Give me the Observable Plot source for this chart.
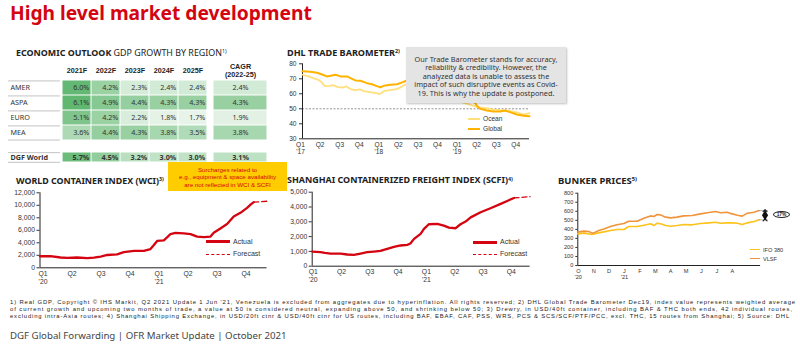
<!DOCTYPE html>
<html><head><meta charset="utf-8">
<script src="https://cdn.jsdelivr.net/npm/d3@7"></script>
<script src="https://cdn.jsdelivr.net/npm/@observablehq/plot@0.6"></script>
<style>
body{margin:0;background:#fff;}
#root{position:relative;width:800px;height:353px;overflow:hidden;font-family:"Noto Sans",sans-serif;color:#222;background:#fff;}
.sup{font-size:0.6em;position:relative;top:-0.45em;}
</style></head><body><div id="root"></div>
<script>
// ---------- DATA ----------
const pageTitle = "High level market development";
const tableTitleBold = "ECONOMIC OUTLOOK";
const tableTitleRest = " GDP GROWTH BY REGION";
const regions = ["AMER","ASPA","EURO","MEA"];
const years = ["2021F","2022F","2023F","2024F","2025F"];
const gdpAMER = [6.0,4.2,2.3,2.4,2.4];
const gdpASPA = [6.1,4.9,4.4,4.3,4.3];
const gdpEURO = [5.1,4.2,2.2,1.8,1.7];
const gdpMEA  = [3.6,4.4,4.3,3.8,3.5];
const cagrHeader = "CAGR\n(2022-25)";
const cagrRegions = [2.4,4.3,1.9,3.8];
const worldName = "DGF World";
const gdpWorld = [5.7,4.5,3.2,3.0,3.0];
const cagrWorld = [3.1];
const gdpColorDomain = [1.5,6.2];
const gdpColorRange = ["#eef7ef","#5db66d"];

const dhlTitle = "DHL TRADE BAROMETER";
const dhlQuarterLabels = ["Q1\n'17","Q2","Q3","Q4","Q1\n'18","Q2","Q3","Q4","Q1\n'19","Q2","Q3","Q4"];
const dhlYTicks = [30,40,50,60,70,80];
const dhlNeutral = 50;
const dhlGlobalQ = [0,0.4,0.75,1.0,1.25,1.5,1.68,1.95,2.28,2.53,2.7,2.96,3.3,3.55,3.8,3.98,4.15,4.5,4.83,5.1,5.3,5.6,6.0,6.5,7.0,7.5,8.0,8.4,8.74,8.9,9.08,9.42,9.76,10.1,10.35,10.6,10.95,11.3,11.6];
const dhlGlobalV = [75,74.7,74,72.9,71.6,72.2,72.7,71.6,71.6,70,68.9,68.7,67.1,66.4,65.1,64.4,65.3,66,66.4,67.6,68.7,68,66,63,61,59,58,57,55.5,52.2,50,48.9,48.2,48.2,48.9,47.8,46.2,45.3,45.1];
const dhlOceanQ = [0,0.3,0.55,0.8,0.97,1.14,1.4,1.56,1.82,2.07,2.24,2.5,2.67,2.93,3.18,3.44,3.78,3.95,4.2,4.46,4.8,4.97,5.22,5.6,6.0,6.5,7.0,7.5,8.0,8.5,9.0,9.4,9.76,10.2,10.6,10.95,11.3,11.6];
const dhlOceanV = [72.7,71.6,70.4,69.3,67.8,65.1,65.3,65.8,64.4,64.2,64.9,62.9,62.4,62.9,61.6,61.1,60.4,59.8,62,62.4,63.1,64,66,66.5,65,62,60,57,55,53,51,50.5,49.5,49,48.4,47.6,46.2,47.1];
const dhlSeries = ["Ocean","Global"];
const dhlNote = ["Our Trade Barometer stands for accuracy,","reliability & credibility. However, the","analyzed data is unable to assess the","impact of such disruptive events as Covid-","19. This is why the update is postponed."];

const quarterLabels = ["Q1\n'20","Q2","Q3","Q4","Q1\n'21","Q2","Q3","Q4"];
const wciTitle = "WORLD CONTAINER INDEX (WCI)";
const wciYTicks = [0,2000,4000,6000,8000,10000,12000];
const wciActualT = [0,0.36,0.71,0.94,1.28,1.63,1.86,2.09,2.32,2.66,2.89,3.24,3.58,3.81,3.92,4.04,4.27,4.39,4.5,4.67,4.96,5.19,5.42,5.65,5.88,5.99,6.22,6.45,6.68,6.91,7.14,7.26,7.37];
const wciActualV = [1850,1870,1650,1600,1650,1550,1620,1800,2050,2150,2500,2700,2700,3000,3600,4300,4400,4900,5400,5600,5500,5400,5000,4900,5000,5600,6300,7000,8200,8800,9600,10100,10500];
const wciForecastT = [7.37,7.83];
const wciForecastV = [10500,10650];
const seriesNames = ["Actual","Forecast"];

const scfiTitle = "SHANGHAI CONTAINERIZED FREIGHT INDEX (SCFI)";
const scfiYTicks = [0,1000,2000,3000,4000,5000];
const scfiActualT = [0,0.29,0.45,0.65,1.0,1.24,1.47,1.71,1.94,2.18,2.41,2.65,2.89,3.12,3.36,3.47,3.6,3.83,3.95,4.12,4.42,4.65,4.83,5.07,5.24,5.42,5.6,5.95,6.3,6.66,6.89,7.13];
const scfiActualV = [990,945,900,855,855,790,765,855,945,990,1035,1170,1300,1400,1440,1530,1845,2180,2520,2835,2860,2745,2610,2565,2835,3015,3300,3645,3915,4210,4410,4610];
const scfiForecastT = [7.13,7.7];
const scfiForecastV = [4610,4700];

const surchargeNote = ["Surcharges related to","e.g., equipment & space availability","are not reflected in WCI & SCFI"];

const bunkerTitle = "BUNKER PRICES";
const monthLabels = ["O\n'20","N","D","J\n'21","F","M","A","M","J","J","A"];
const bunkerYTicks = [0,100,200,300,400,500,600,700,800];
const vlsfM = [0,0.39,0.71,0.93,1.0,1.36,1.69,2.12,2.55,2.99,3.31,3.85,4.29,4.72,4.94,5.15,5.37,5.7,6.02,6.45,6.88,7.43,7.97,8.51,8.95,9.27,9.7,10.03,10.36,10.68,11.01,11.45,11.77];
const vlsfV = [369,380,376,358,358,387,405,431,450,465,490,490,523,549,542,564,560,535,527,535,549,553,571,586,597,583,590,571,557,546,579,590,608];
const ifoM = [0,0.39,0.93,1.25,1.69,2.12,2.55,2.99,3.31,3.85,4.29,4.72,4.94,5.15,5.37,5.7,6.02,6.45,6.88,7.43,7.97,8.51,8.95,9.27,9.7,10.03,10.36,10.68,11.01,11.45,11.77];
const ifoV = [350,358,343,358,372,387,398,398,431,431,446,461,442,468,461,442,435,442,453,450,465,472,479,468,472,472,468,453,472,487,505];
const bunkerSeries = ["IFO 380","VLSF"];
const spreadLabel = "17%";

const footnotes = [
 "1) Real GDP, Copyright © IHS Markit, Q2 2021 Update 1 Jun '21, Venezuela is excluded from aggregates due to hyperinflation. All rights reserved; 2) DHL Global Trade Barometer Dec19, index value represents weighted average",
 "of current growth and upcoming two months of trade, a value at 50 is considered neutral, expanding above 50, and shrinking below 50; 3) Drewry, in USD/40ft container, including BAF & THC both ends, 42 individual routes,",
 "excluding intra-Asia routes; 4) Shanghai Shipping Exchange, in USD/20ft ctnr & USD/40ft ctnr for US routes, including BAF, EBAF, CAF, PSS, WRS, PCS & SCS/SCF/PTF/PCC, excl. THC, 15 routes from Shanghai; 5) Source: DHL"
];
const footer = "DGF Global Forwarding | OFR Market Update | October 2021";

// ---------- HELPERS ----------
const RED = "#d40511";
const SMALL = '"Liberation Sans", Arial, sans-serif';
const root = document.getElementById("root");
const S = (fs, fam) => ({fontFamily: fam || '"Noto Sans", sans-serif', fontSize: fs+"px", color:"#333", background:"transparent", overflow:"visible"});
function put(node, left, top){ const d=document.createElement("div"); d.style.cssText=`position:absolute;left:${left}px;top:${top}px;line-height:0;`; d.appendChild(node); root.appendChild(d); return d; }
function label(html, left, cy, css){ const d=document.createElement("div"); d.innerHTML=html; d.style.cssText=`position:absolute;left:${left}px;top:${cy}px;transform:translateY(-50%);white-space:nowrap;line-height:1.15;${css||""}`; root.appendChild(d); return d; }
function fit(el, target){ const w=el.getBoundingClientRect().width; const fs=parseFloat(getComputedStyle(el).fontSize); el.style.fontSize=(fs*target/w)+"px"; }
function spread(el, target){ const w=el.getBoundingClientRect().width; const n=el.textContent.length; el.style.letterSpacing=((target-w)/n)+"px"; }
function legendLine(left, cy, color, width, dashed, text, fs, len=24){
  const l=document.createElement("div");
  l.style.cssText=`position:absolute;left:${left}px;top:${cy-width/2}px;width:${len}px;height:0;border-top:${width}px ${dashed?"dashed":"solid"} ${color};`;
  root.appendChild(l);
  return label(text, left+len+3, cy, `font-size:${fs}px;color:#333;font-family:${SMALL};`);
}
const pts = (T,V) => T.map((t,i)=>({t, v:V[i]}));

// ---------- TITLE ----------
const t0 = label(pageTitle, 10, 13, `font-size:19px;font-weight:700;color:${RED};`);
fit(t0, 302);

// ---------- TABLE ----------
const tt = label(`<b>${tableTitleBold}</b>${tableTitleRest}<span class="sup">1)</span>`, 16, 52.5, "font-size:7.8px;color:#222;");
fit(tt, 211);

function gridPlot({rows, cols, vals, width, height, marginTop=0, header=null, align="end", bold=false}){
  const data = rows.flatMap((r,i)=>cols.map((c,j)=>({r, c, v: vals[i][j]})));
  const bw = width/cols.length;
  return Plot.plot({
    width, height, marginTop, marginLeft:0, marginRight:0, marginBottom:0,
    style: S(7.2),
    x:{type:"band", domain:cols, padding:0, axis:null},
    y:{type:"band", domain:rows, padding:0, axis:null},
    color:{type:"linear", domain:gdpColorDomain, range:gdpColorRange, interpolate:"rgb"},
    marks:[
      Plot.cell(data, {x:"c", y:"r", fill:"v", inset:0.5}),
      Plot.text(data, {x:"c", y:"r", text:d=>d.v.toFixed(1)+"%", textAnchor: align==="end"?"end":"middle", dx: align==="end"? bw/2-2.5 : 0, fill:"#333", fontWeight: bold?700:400}),
      header ? Plot.text(cols, {x:d=>d, text:(d,i)=>header[i], frameAnchor:"top", lineAnchor:"middle", dy:-10, fontWeight:700, lineHeight:1.1, fill:"#222", fontFamily:SMALL}) : null
    ]
  });
}
function labelPlot(rows, height, bold){
  const bh = height/rows.length;
  return Plot.plot({
    width:52, height, margin:0, style:S(7.2),
    y:{type:"band", domain:rows, padding:0, axis:null},
    marks:[
      Plot.ruleY(rows, {y:d=>d, dy:-bh/2+0.5, stroke:"#c4c4c4"}),
      Plot.ruleY([rows[rows.length-1]], {y:d=>d, dy:bh/2-0.5, stroke:"#c4c4c4"}),
      Plot.text(rows, {y:d=>d, frameAnchor:"left", textAnchor:"start", dx:2, fill:"#333", fontWeight: bold?700:400})
    ]
  });
}
const regionVals = [gdpAMER, gdpASPA, gdpEURO, gdpMEA];
put(labelPlot(regions, 60.7, false), 8, 80);
put(gridPlot({rows:regions, cols:years, vals:regionVals, width:148, height:80.7, marginTop:20, header:years}), 60, 60);
put(gridPlot({rows:regions, cols:[cagrHeader], vals:cagrRegions.map(v=>[v]), width:54, height:80.7, marginTop:20, header:[cagrHeader], align:"middle"}), 212.7, 60);
put(labelPlot([worldName], 10.7, true), 8, 151.7);
put(gridPlot({rows:[worldName], cols:years, vals:[gdpWorld], width:148, height:10.7, bold:true}), 60, 151.7);
put(gridPlot({rows:[worldName], cols:[cagrHeader], vals:[cagrWorld], width:54, height:10.7, align:"middle", bold:true}), 212.7, 151.7);

// ---------- DHL TRADE BAROMETER ----------
fit(label(`${dhlTitle}<span class="sup">2)</span>`, 287, 52.7, "font-size:8px;font-weight:700;color:#222;"), 113);
const dhlPlot = Plot.plot({
  width:264, height:100, marginLeft:32, marginRight:264-(529-270), marginTop:8.3, marginBottom:16.7,
  style:S(6.6, SMALL),
  x:{domain:[0, d3.max(dhlGlobalQ)], axis:null},
  y:{domain:[30,80]},
  marks:[
    Plot.axisY({ticks:dhlYTicks, tickSize:3, tickPadding:3, label:null}),
    Plot.ruleY([dhlNeutral], {stroke:"#777", strokeDasharray:"2,1.5", strokeWidth:0.8}),
    Plot.ruleY([30], {stroke:"#222"}),
    Plot.ruleX([0], {stroke:"#222"}),
    Plot.text(dhlQuarterLabels, {x:(d,i)=>i, text:d=>d, frameAnchor:"bottom", lineAnchor:"top", dy:2.5, dx:-2, lineHeight:1.15, fill:"#333"}),
    Plot.line(pts(dhlOceanQ, dhlOceanV), {x:"t", y:"v", stroke:"#ffe07d", strokeWidth:1.8}),
    Plot.line(pts(dhlGlobalQ, dhlGlobalV), {x:"t", y:"v", stroke:"#ffb300", strokeWidth:2})
  ]
});
put(dhlPlot, 270, 55);
legendLine(468, 119, "#ffe07d", 2, false, dhlSeries[0], 6.6, 12);
legendLine(468, 129.3, "#ffb300", 2.2, false, dhlSeries[1], 6.6, 12);
const note = document.createElement("div");
note.innerHTML = dhlNote.join("<br>");
note.style.cssText = "position:absolute;left:406px;top:47px;width:160px;height:56px;background:#e4e4e4;box-shadow:1px 1px 2px rgba(0,0,0,.25);text-align:center;font-size:7.3px;line-height:8.6px;padding-top:7.5px;box-sizing:border-box;color:#333;white-space:nowrap;";
root.appendChild(note);

// ---------- WCI ----------
fit(label(`${wciTitle}<span class="sup">3)</span>`, 16, 180.7, "font-size:8px;font-weight:700;color:#222;"), 148);
const wciPlot = Plot.plot({
  width:275, height:100, marginLeft:39.5, marginRight:275-(39.5+29*wciForecastT[1]), marginTop:7.3, marginBottom:17.7,
  style:S(6.8, SMALL),
  x:{domain:[0, wciForecastT[1]], axis:null},
  y:{domain:[0,12000]},
  marks:[
    Plot.axisY({ticks:wciYTicks, tickFormat:d3.format(","), tickSize:3, tickPadding:2, label:null}),
    Plot.ruleY([0], {stroke:"#222"}),
    Plot.ruleX([0], {stroke:"#222"}),
    Plot.text(quarterLabels, {x:(d,i)=>i, text:d=>d, frameAnchor:"bottom", lineAnchor:"top", dy:2.5, dx:3, lineHeight:1.15, fill:"#333"}),
    Plot.line(pts(wciForecastT, wciForecastV), {x:"t", y:"v", stroke:RED, strokeWidth:1.3, strokeDasharray:"5,3"}),
    Plot.line(pts(wciActualT, wciActualV), {x:"t", y:"v", stroke:RED, strokeWidth:2.3})
  ]
});
put(wciPlot, 0, 185);
legendLine(206, 241.7, RED, 3, false, seriesNames[0], 7);
legendLine(206, 254.3, RED, 1.3, true, seriesNames[1], 7);

// ---------- SCFI ----------
fit(label(`${scfiTitle}<span class="sup">4)</span>`, 287, 180, "font-size:8px;font-weight:700;color:#222;"), 226);
const scfiPlot = Plot.plot({
  width:260, height:100, marginLeft:36.7, marginRight:260-(36.7+28.3*scfiForecastT[1]), marginTop:6.7, marginBottom:19.3,
  style:S(6.8, SMALL),
  x:{domain:[0, scfiForecastT[1]], axis:null},
  y:{domain:[0,5000]},
  marks:[
    Plot.axisY({ticks:scfiYTicks, tickFormat:d3.format(","), tickSize:3, tickPadding:2, label:null}),
    Plot.ruleY([0], {stroke:"#222"}),
    Plot.ruleX([0], {stroke:"#222"}),
    Plot.text(quarterLabels, {x:(d,i)=>i, text:d=>d, frameAnchor:"bottom", lineAnchor:"top", dy:2.5, dx:1, lineHeight:1.15, fill:"#333"}),
    Plot.line(pts(scfiForecastT, scfiForecastV), {x:"t", y:"v", stroke:RED, strokeWidth:1.3, strokeDasharray:"5,3"}),
    Plot.line(pts(scfiActualT, scfiActualV), {x:"t", y:"v", stroke:RED, strokeWidth:2.3})
  ]
});
put(scfiPlot, 275, 185);
legendLine(473, 242.3, RED, 3, false, seriesNames[0], 7);
legendLine(473, 254.3, RED, 1.3, true, seriesNames[1], 7);

// ---------- SURCHARGE NOTE ----------
const sn = document.createElement("div");
sn.innerHTML = surchargeNote.join("<br>");
sn.style.cssText = `position:absolute;left:168px;top:162px;width:119px;height:29px;background:#ffcc00;text-align:center;font-size:6.2px;line-height:7.1px;padding-top:4.4px;box-sizing:border-box;color:${RED};white-space:nowrap;font-family:${SMALL};`;
root.appendChild(sn);

// ---------- BUNKER ----------
fit(label(`${bunkerTitle}<span class="sup">5)</span>`, 558, 180.7, "font-size:8px;font-weight:700;color:#222;"), 79);
const lastM = vlsfM[vlsfM.length-1];
const lastV = vlsfV[vlsfV.length-1], lastI = ifoV[ifoV.length-1];
const bunkerPlot = Plot.plot({
  width:255, height:95, marginLeft:37.3, marginRight:255-(37.3+15.4*12.5), marginTop:7.7, marginBottom:15,
  style:S(5.6, SMALL),
  x:{domain:[0,12.5], axis:null},
  y:{domain:[0,800]},
  marks:[
    Plot.axisY({ticks:bunkerYTicks, tickSize:2, tickPadding:2.5, label:null}),
    Plot.ruleY([0], {x1:0, x2:lastM+0.1, stroke:"#222"}),
    Plot.ruleX([0], {stroke:"#222"}),
    Plot.text(monthLabels, {x:(d,i)=>i, text:d=>d, frameAnchor:"bottom", lineAnchor:"top", dy:2.5, dx:0.5, lineHeight:1.15, fill:"#333"}),
    Plot.line(pts(ifoM, ifoV), {x:"t", y:"v", stroke:"#fdc31b", strokeWidth:1.6}),
    Plot.line(pts(vlsfM, vlsfV), {x:"t", y:"v", stroke:"#f0943a", strokeWidth:1.6}),
    Plot.ruleY([lastI, lastV], {x1:lastM, x2:lastM+0.6, stroke:"#999", strokeWidth:0.7}),
    Plot.link([{}], {x1:lastM, x2:lastM, y1:lastI, y2:lastV, dx:6, stroke:"#111", strokeWidth:1, markerStart:"arrow", markerEnd:"arrow"}),
    Plot.dot([{}], {x:lastM, y:(lastI+lastV)/2, dx:6, symbol:"diamond", r:3.2, fill:"#111"})
  ]
});
put(bunkerPlot, 540, 185);
const ell = document.createElement("div");
ell.textContent = spreadLabel;
ell.style.cssText = `position:absolute;left:773px;top:210.5px;width:17px;height:7px;border:1px solid #222;border-radius:50%;box-sizing:border-box;font-size:4.8px;font-weight:700;line-height:5px;text-align:center;color:#222;font-family:${SMALL};`;
root.appendChild(ell);
legendLine(750, 250, "#fdc31b", 1.8, false, bunkerSeries[0], 5.6, 10);
legendLine(750, 259.3, "#f0943a", 1.8, false, bunkerSeries[1], 5.6, 10);

// ---------- FOOTNOTES ----------
const fnTargets = [786, 783, 780];
footnotes.forEach((f,i)=>{
  const el = label(f, 10, 302.3+6.7*i, `font-size:5.9px;line-height:6.5px;color:#222;font-family:${SMALL};`);
  spread(el, fnTargets[i]);
});
const ft = label(footer, 10, 335.7, "font-size:9.5px;color:#444;");
fit(ft, 277);
</script></body></html>
